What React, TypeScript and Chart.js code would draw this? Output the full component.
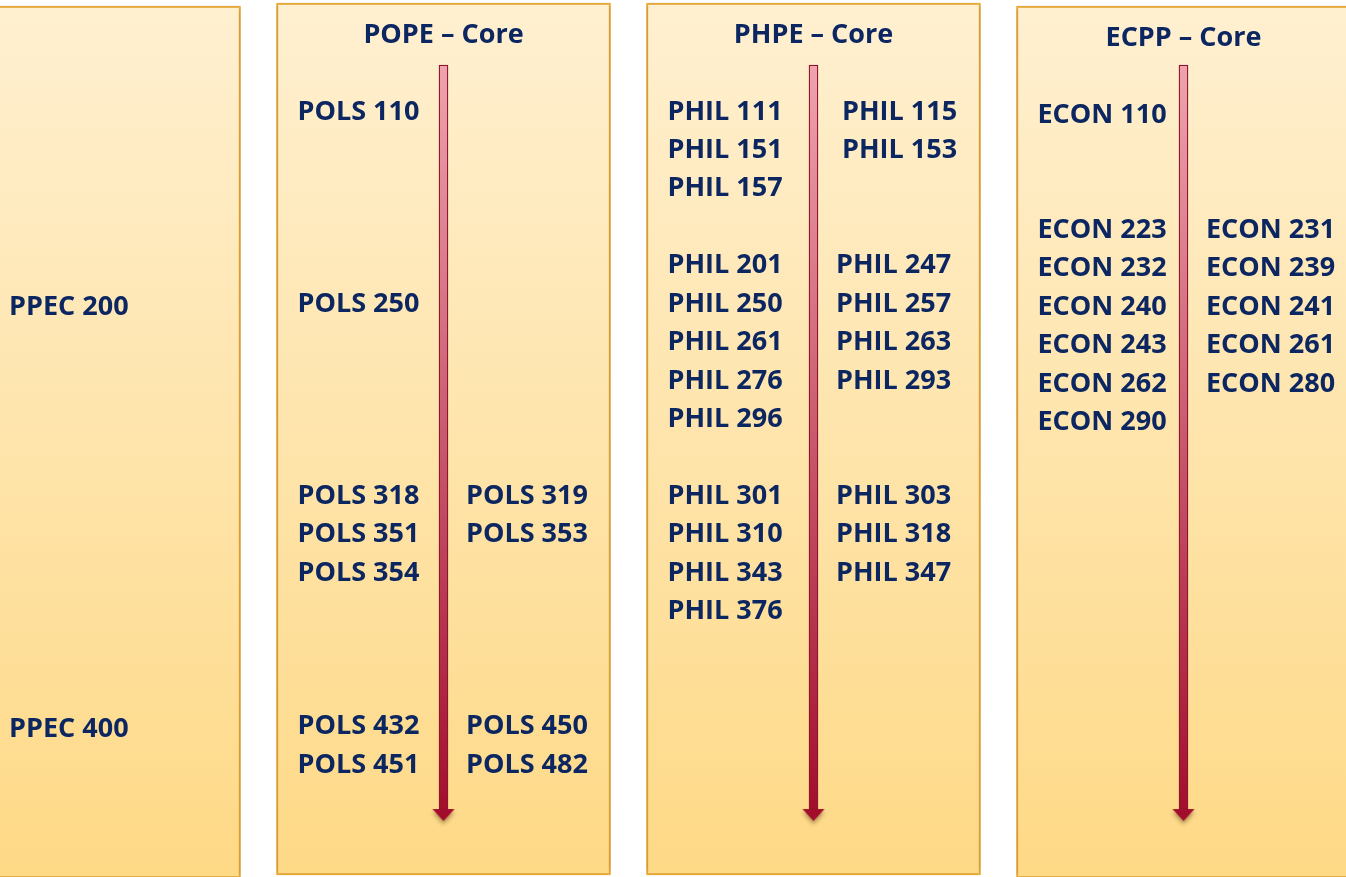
import { useEffect, useRef } from "react";
import { Chart, registerables } from "chart.js";

Chart.register(...registerables);

// ---------- DATA ----------
const panelTitles = ["", "POPE – Core", "PHPE – Core", "ECPP – Core"];
const panelIndex = [0, 1, 2, 3];
const levelLabels = ["PPEC 200", "PPEC 400"];
const levelRows = [5, 16];
// [course, row, column]
const popeCourses: [string, number, number][] = [
  ["POLS 110", 0, 0],
  ["POLS 250", 5, 0],
  ["POLS 318", 10, 0],
  ["POLS 319", 10, 1],
  ["POLS 351", 11, 0],
  ["POLS 353", 11, 1],
  ["POLS 354", 12, 0],
  ["POLS 432", 16, 0],
  ["POLS 450", 16, 1],
  ["POLS 451", 17, 0],
  ["POLS 482", 17, 1],
];
const phpeCourses: [string, number, number][] = [
  ["PHIL 111", 0, 0],
  ["PHIL 115", 0, 2],
  ["PHIL 151", 1, 0],
  ["PHIL 153", 1, 2],
  ["PHIL 157", 2, 0],
  ["PHIL 201", 4, 0],
  ["PHIL 247", 4, 1],
  ["PHIL 250", 5, 0],
  ["PHIL 257", 5, 1],
  ["PHIL 261", 6, 0],
  ["PHIL 263", 6, 1],
  ["PHIL 276", 7, 0],
  ["PHIL 293", 7, 1],
  ["PHIL 296", 8, 0],
  ["PHIL 301", 10, 0],
  ["PHIL 303", 10, 1],
  ["PHIL 310", 11, 0],
  ["PHIL 318", 11, 1],
  ["PHIL 343", 12, 0],
  ["PHIL 347", 12, 1],
  ["PHIL 376", 13, 0],
];
const ecppCourses: [string, number, number][] = [
  ["ECON 110", 0, 0],
  ["ECON 223", 3, 0],
  ["ECON 231", 3, 1],
  ["ECON 232", 4, 0],
  ["ECON 239", 4, 1],
  ["ECON 240", 5, 0],
  ["ECON 241", 5, 1],
  ["ECON 243", 6, 0],
  ["ECON 261", 6, 1],
  ["ECON 262", 7, 0],
  ["ECON 280", 7, 1],
  ["ECON 290", 8, 0],
];
const arrowPanels = [1, 2, 3];

// ---------- LAYOUT / STYLE ----------
const W = 1346;
const H = 877;
const X_MIN = -0.19865;
const X_MAX = 3.4392;
const Y_MIN = -2.863;
const Y_MAX = 19.963;
const BOX_TOP = -2.785;
const BOX_BOTTOM = 19.91;
const PANEL_SHIFT = [0.078, 0, 0, 0.078];
const TITLE_ROW = -2;
const COL_OFFSET = [-0.3946, 0.0608, 0.077];
const LEVEL_OFFSET = -0.1743;
const SHAFT_TOP = -1.171;
const SHAFT_BOTTOM = 18.25;
const HEAD_ROW = 18.35;
const FONT_SIZE = 27;
const FONT = `bold ${FONT_SIZE}px "Open Sans", "DejaVu Sans", sans-serif`;
const TEXT_COLOR = "#0b2660";
const BOX_BORDER = "#f4b135";

function makeHead(): HTMLCanvasElement {
  const c = document.createElement("canvas");
  c.width = 40;
  c.height = 40;
  const g = c.getContext("2d")!;
  g.shadowColor = "rgba(70,40,0,0.45)";
  g.shadowBlur = 4;
  g.shadowOffsetY = 3;
  g.fillStyle = "#a20d2c";
  g.beginPath();
  g.moveTo(9, 14);
  g.lineTo(31, 14);
  g.lineTo(20, 26);
  g.closePath();
  g.fill();
  return c;
}

function verticalGradient(c: any, from: number, to: number, stops: string[], fallback: string) {
  const ch = c.chart;
  const ys = ch && ch.scales ? ch.scales.y : null;
  if (!ys) return fallback;
  const a = ys.getPixelForValue(from);
  const b = ys.getPixelForValue(to);
  if (!isFinite(a) || !isFinite(b) || a === b) return fallback;
  const g = ch.ctx.createLinearGradient(0, a, 0, b);
  g.addColorStop(0, stops[0]);
  g.addColorStop(1, stops[1]);
  return g;
}

const shadowPlugin = {
  id: "boxShadow",
  beforeDatasetDraw(chart: any, args: any) {
    if (args.index === 0) {
      const ctx = chart.ctx;
      ctx.save();
      ctx.shadowColor = "rgba(0,0,0,0.28)";
      ctx.shadowBlur = 5;
    }
  },
  afterDatasetDraw(chart: any, args: any) {
    if (args.index === 0) chart.ctx.restore();
  },
};

const textPlugin = {
  id: "courseText",
  afterDatasetsDraw(chart: any) {
    const { ctx } = chart;
    const xs = chart.scales.x;
    const ys = chart.scales.y;
    const base = FONT_SIZE * 0.357;
    ctx.save();
    ctx.font = FONT;
    ctx.fillStyle = TEXT_COLOR;
    ctx.textBaseline = "alphabetic";
    ctx.textAlign = "center";
    panelTitles.forEach((t, p) => {
      if (!t) return;
      ctx.fillText(t, xs.getPixelForValue(panelIndex[p]), ys.getPixelForValue(TITLE_ROW + PANEL_SHIFT[p]) + base);
    });
    ctx.textAlign = "left";
    levelLabels.forEach((t, i) => {
      ctx.fillText(t, xs.getPixelForValue(panelIndex[0] + LEVEL_OFFSET), ys.getPixelForValue(levelRows[i] + PANEL_SHIFT[0]) + base);
    });
    const groups: [number, [string, number, number][]][] = [
      [1, popeCourses],
      [2, phpeCourses],
      [3, ecppCourses],
    ];
    groups.forEach(([p, list]) => {
      list.forEach(([t, r, c]) => {
        ctx.fillText(t, xs.getPixelForValue(p + COL_OFFSET[c]), ys.getPixelForValue(r + PANEL_SHIFT[p]) + base);
      });
    });
    ctx.restore();
  },
};

export default function App() {
  const ref = useRef<HTMLCanvasElement | null>(null);
  useEffect(() => {
    document.body.style.margin = "0";
    const canvas = ref.current!;
    const head = makeHead();
    const chart = new Chart(canvas, {
      type: "bar",
      data: {
        datasets: [
          {
            type: "bar",
            order: 3,
            grouped: false,
            data: panelIndex.map((p) => ({ x: p, y: [BOX_TOP + PANEL_SHIFT[p], BOX_BOTTOM + PANEL_SHIFT[p]] })) as any,
            barThickness: 334,
            borderWidth: 2,
            borderColor: BOX_BORDER,
            borderSkipped: false,
            backgroundColor: (c: any) => verticalGradient(c, BOX_TOP, BOX_BOTTOM, ["#fff0d1", "#fed986"], "#ffe6aa"),
          } as any,
          {
            type: "bar",
            order: 2,
            grouped: false,
            data: arrowPanels.map((p) => ({ x: p, y: [SHAFT_TOP, SHAFT_BOTTOM] })) as any,
            barThickness: 9,
            borderWidth: 1.3,
            borderColor: "#8f1330",
            borderSkipped: false,
            backgroundColor: (c: any) => verticalGradient(c, SHAFT_TOP, SHAFT_BOTTOM, ["#efa3ad", "#a20f2d"], "#c85060"),
          } as any,
          {
            type: "scatter",
            order: 1,
            data: arrowPanels.map((p) => ({ x: p, y: HEAD_ROW })),
            pointStyle: head as any,
            pointRadius: 0.5,
            pointBorderWidth: 0,
            borderWidth: 0,
            showLine: false,
            clip: false,
          } as any,
        ],
      },
      options: {
        responsive: false,
        animation: false,
        events: [],
        layout: { padding: 0, autoPadding: false } as any,
        plugins: { legend: { display: false }, tooltip: { enabled: false } },
        scales: {
          x: { type: "linear", min: X_MIN, max: X_MAX, offset: false, display: false },
          y: { type: "linear", min: Y_MIN, max: Y_MAX, reverse: true, offset: false, display: false },
        },
      },
      plugins: [shadowPlugin, textPlugin],
    });
    if ((document as any).fonts && (document as any).fonts.load) {
      (document as any).fonts.load(FONT).then(() => chart.update()).catch(() => {});
    }
    return () => chart.destroy();
  }, []);
  return (
    <div style={{ position: "fixed", left: 0, top: 0, width: W, height: H, background: "#ffffff" }}>
      <canvas ref={ref} width={W} height={H} style={{ display: "block", width: W, height: H }} />
    </div>
  );
}
